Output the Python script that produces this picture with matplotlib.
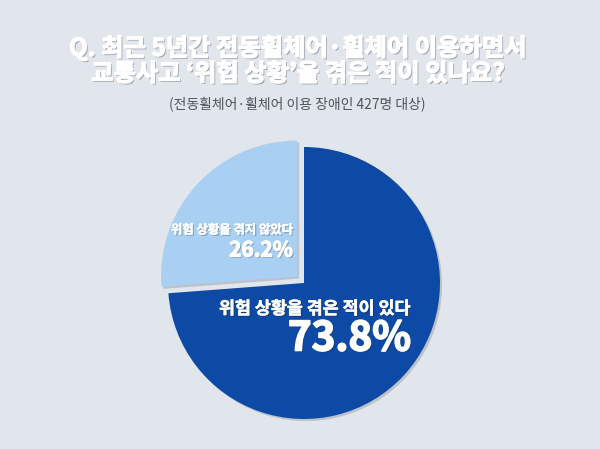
import matplotlib
matplotlib.use("Agg")
import matplotlib.pyplot as plt
import matplotlib.patheffects as pe

plt.rcParams['font.family'] = ['Noto Sans CJK KR', 'DejaVu Sans']

title_lines = ["Q. 최근 5년간 전동휠체어·휠체어 이용하면서", "교통사고 ‘위험 상황’을 겪은 적이 있나요?"]
subtitle = "(전동휠체어·휠체어 이용 장애인 427명 대상)"
categories = ["위험 상황을 겪은 적이 있다", "위험 상황을 겪지 않았다"]
values = [73.8, 26.2]
colors = ["#0c4aa6", "#a9d0f3"]

W, H = 600, 449
fig = plt.figure(figsize=(6.0, 4.49), dpi=100)
fig.patch.set_facecolor("#e1e5ec")
ax = fig.add_axes([0, 0, 1, 1])

def Y(y):
    return H - y

wedges, _ = ax.pie(values, colors=colors, startangle=90, counterclock=False,
                   center=(304, Y(283)), radius=136, explode=[0, 9.5],
                   wedgeprops=dict(linewidth=0))
ax.set_xlim(0, W)
ax.set_ylim(0, H)
ax.set_aspect("equal")
ax.axis("off")
for w in wedges:
    w.set_path_effects([pe.SimplePatchShadow(offset=(1.5, -1.5), shadow_rgbFace="#7a808a", alpha=0.35),
                        pe.Normal()])

def heavy(lw, shade="#5a6070", alpha=0.5):
    return [pe.SimplePatchShadow(offset=(1, -1), shadow_rgbFace=shade, alpha=alpha),
            pe.Stroke(linewidth=lw, foreground="white"), pe.Normal()]

ax.text(298, Y(48), title_lines[0], ha="center", va="center", fontsize=17.5,
        fontweight="bold", color="white", path_effects=heavy(0.9))
ax.text(298, Y(74), title_lines[1], ha="center", va="center", fontsize=17.5,
        fontweight="bold", color="white", path_effects=heavy(0.9))
ax.text(297, Y(104), subtitle, ha="center", va="center", fontsize=10, color="#4f545c")

ax.text(293, Y(230), categories[1], ha="right", va="center", fontsize=8.9,
        fontweight="bold", color="white", path_effects=heavy(0.3, "#333", 0.3))
ax.text(293, Y(250), f"{values[1]}%", ha="right", va="center", fontsize=15,
        fontweight="bold", color="white", path_effects=heavy(0.8, "#333", 0.3))
ax.text(411, Y(309), categories[0], ha="right", va="center", fontsize=12.5,
        fontweight="bold", color="white", path_effects=heavy(0.4, "#222", 0.35))
ax.text(411, Y(339), f"{values[0]}%", ha="right", va="center", fontsize=29,
        fontweight="bold", color="white", path_effects=heavy(1.2, "#222", 0.35))

fig.savefig("out.png", dpi=100, facecolor=fig.get_facecolor())
